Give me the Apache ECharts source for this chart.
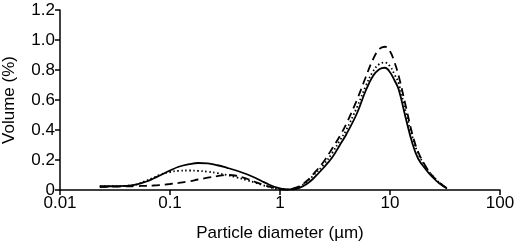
<!DOCTYPE html>
<html>
<head>
<meta charset="utf-8">
<script src="https://cdn.jsdelivr.net/npm/echarts@6/dist/echarts.min.js"></script>
<style>
html, body { margin: 0; padding: 0; background: #fff; }
#chart { width: 517px; height: 246px; }
</style>
</head>
<body>
<div id="chart"></div>
<script>
// particle diameters (µm)
var diameters = [0.023, 0.03, 0.04, 0.05, 0.06, 0.07, 0.08, 0.1, 0.12, 0.15, 0.18, 0.22, 0.27, 0.33, 0.4, 0.5, 0.6, 0.7, 0.8, 0.9,
    1.0, 1.15, 1.3, 1.5, 1.75, 2, 2.5, 3, 3.5, 4, 5, 6, 7, 8, 9, 10, 11, 12, 14, 16, 18, 21, 24, 28, 33];
// volume (%) - solid line
var solidVals = [0.025, 0.025, 0.028, 0.038, 0.055, 0.075, 0.095, 0.13, 0.155, 0.172, 0.18, 0.178, 0.165, 0.148, 0.13, 0.105, 0.08, 0.055, 0.035, 0.02,
    0.01, 0.004, 0.004, 0.014, 0.04, 0.075, 0.15, 0.22, 0.3, 0.37, 0.51, 0.66, 0.76, 0.805, 0.815, 0.785, 0.73, 0.67, 0.47, 0.31, 0.21, 0.14, 0.09, 0.045, 0.01];
// dotted line
var dottedVals = [0.025, 0.025, 0.028, 0.038, 0.06, 0.08, 0.1, 0.12, 0.128, 0.13, 0.128, 0.122, 0.112, 0.1, 0.085, 0.065, 0.048, 0.032, 0.02, 0.01,
    0.005, 0.003, 0.008, 0.022, 0.055, 0.095, 0.17, 0.25, 0.33, 0.4, 0.55, 0.69, 0.79, 0.84, 0.85, 0.825, 0.77, 0.71, 0.51, 0.35, 0.245, 0.155, 0.1, 0.05, 0.012];
// dashed line
var dashedVals = [0.02, 0.022, 0.024, 0.026, 0.028, 0.03, 0.033, 0.04, 0.047, 0.058, 0.07, 0.082, 0.093, 0.1, 0.095, 0.075, 0.052, 0.035, 0.022, 0.012,
    0.006, 0.003, 0.009, 0.025, 0.06, 0.105, 0.19, 0.28, 0.36, 0.44, 0.6, 0.75, 0.87, 0.94, 0.955, 0.925, 0.85, 0.76, 0.55, 0.37, 0.255, 0.16, 0.1, 0.05, 0.012];

function pairs(vals) {
    return diameters.map(function (d, i) { return [d, vals[i]]; });
}

var myChart = echarts.init(document.getElementById('chart'));
var font = 'Liberation Sans, Arial, sans-serif';
var axisLine = { show: true, lineStyle: { color: '#000', width: 1.5 } };

var option = {
    animation: false,
    grid: { left: 60, right: 17, top: 10, bottom: 56, outerBoundsMode: 'none' },
    xAxis: {
        type: 'log',
        logBase: 10,
        min: 0.01,
        max: 100,
        name: 'Particle diameter (µm)',
        nameLocation: 'middle',
        nameGap: 35,
        nameTextStyle: { color: '#000', fontSize: 17, fontFamily: font },
        axisLine: axisLine,
        axisTick: { show: true, length: 5, lineStyle: { color: '#000', width: 1.5 } },
        minorTick: { show: false },
        splitLine: { show: false },
        axisLabel: {
            color: '#000', fontSize: 17, fontFamily: font, margin: 5,
            formatter: function (v) { return String(v); }
        }
    },
    yAxis: {
        type: 'value',
        min: 0,
        max: 1.2,
        interval: 0.2,
        name: 'Volume (%)',
        nameLocation: 'middle',
        nameGap: 42,
        nameTextStyle: { color: '#000', fontSize: 17, fontFamily: font },
        axisLine: axisLine,
        axisTick: { show: true, length: 5, lineStyle: { color: '#000', width: 1.5 } },
        splitLine: { show: false },
        axisLabel: {
            color: '#000', fontSize: 17, fontFamily: font, margin: 5,
            formatter: function (v) { return v === 0 ? '0' : v.toFixed(1); }
        }
    },
    series: [{
        name: 'solid',
        type: 'line',
        smooth: 0.4,
        symbol: 'none',
        data: pairs(solidVals),
        lineStyle: { color: '#000', width: 1.8, type: 'solid' }
    }, {
        name: 'dotted',
        type: 'line',
        smooth: 0.4,
        symbol: 'none',
        data: pairs(dottedVals),
        lineStyle: { color: '#000', width: 1.8, type: [1.5, 2.5] }
    }, {
        name: 'dashed',
        type: 'line',
        smooth: 0.4,
        symbol: 'none',
        data: pairs(dashedVals),
        lineStyle: { color: '#000', width: 1.8, type: [8, 5] }
    }]
};
myChart.setOption(option);
</script>
</body>
</html>
